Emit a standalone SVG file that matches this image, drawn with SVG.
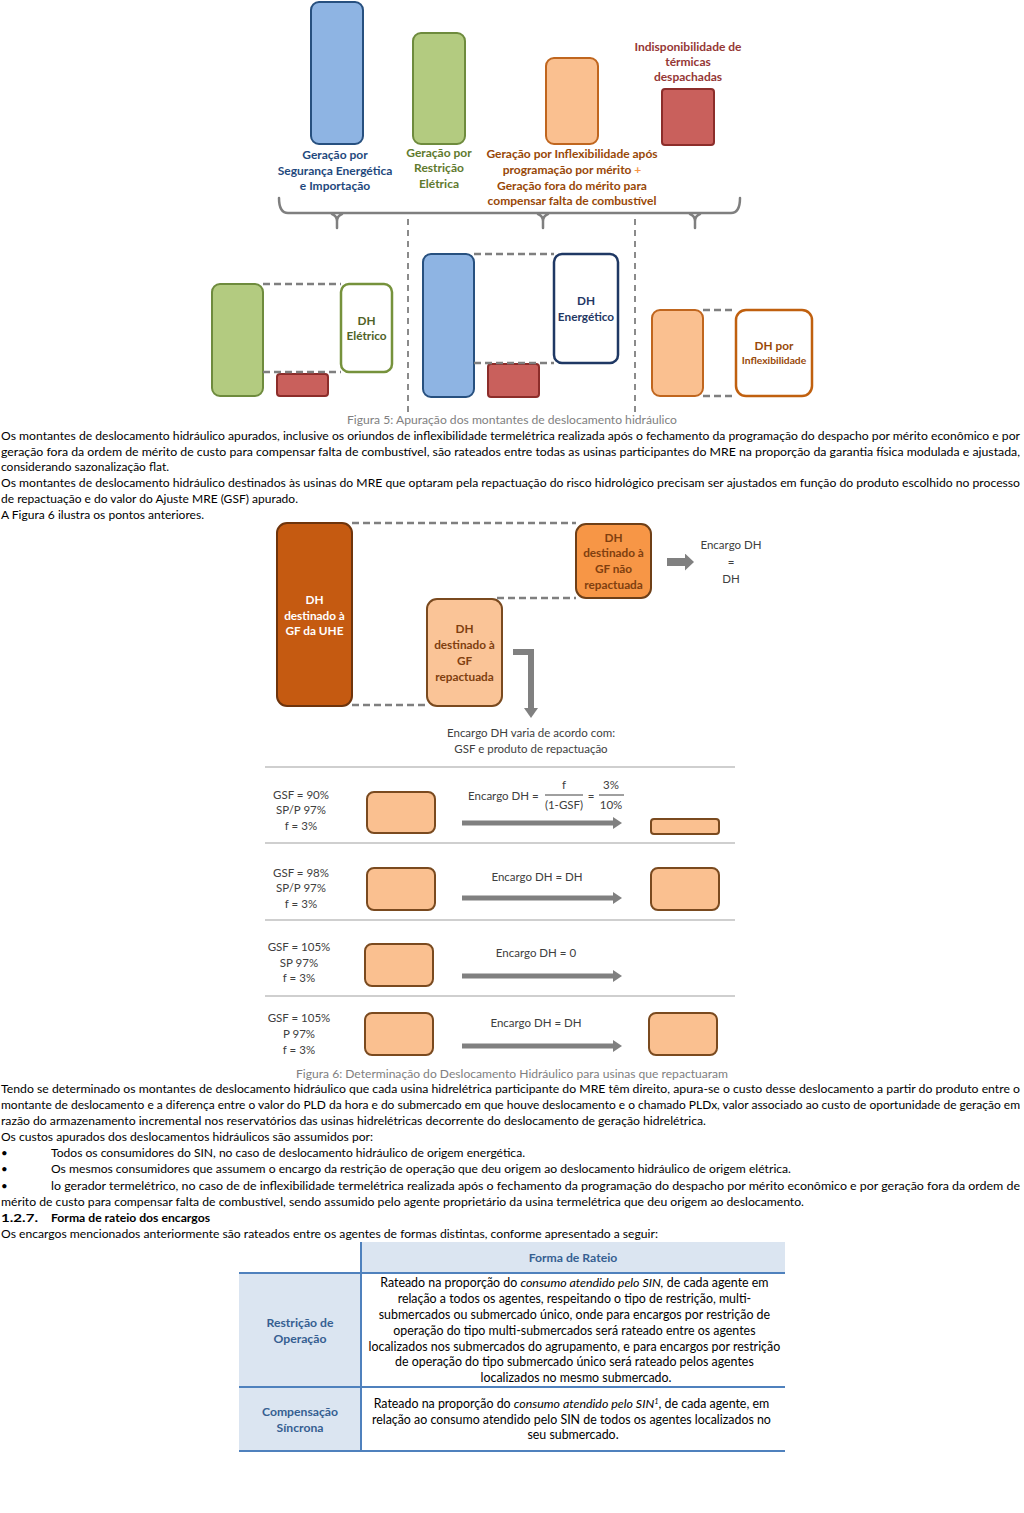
<svg xmlns="http://www.w3.org/2000/svg" width="1024" height="1513" viewBox="0 0 1024 1513">
<style>
.lb{font-family:Lato,"Liberation Sans",sans-serif;font-weight:bold;font-size:12px;text-anchor:middle}
.bx{font-family:Lato,"Liberation Sans",sans-serif;font-weight:bold;font-size:11.8px;text-anchor:middle}
.t{font-family:Lato,"Liberation Sans",sans-serif;font-size:11.5px;fill:#404040;text-anchor:middle}
.ts{font-family:Lato,"Liberation Sans",sans-serif;font-size:11.5px;fill:#404040;text-anchor:start}
.body{font-family:Lato,"Liberation Sans",sans-serif;font-size:11.5px;fill:#000}
.b{font-weight:bold}
.cap{font-family:Lato,"Liberation Sans",sans-serif;font-size:11.5px;fill:#808080}
.tb{font-family:Lato,"Liberation Sans",sans-serif;font-size:12.4px;fill:#000;text-anchor:middle}
.th{font-family:Lato,"Liberation Sans",sans-serif;font-size:12.2px;font-weight:bold;fill:#365F91;text-anchor:middle}
.dash{stroke:#7F7F7F;stroke-width:2.5;stroke-dasharray:7 4;fill:none}
.vd{stroke:#7F7F7F;stroke-width:1.8;stroke-dasharray:6 5;fill:none}
.blue{fill:#8EB4E3;stroke:#27507F;stroke-width:2}
.green{fill:#B3CB80;stroke:#6E8B3D;stroke-width:2}
.peach{fill:#FAC090;stroke:#C0661E;stroke-width:2}
.red{fill:#C9605C;stroke:#8C2D2A;stroke-width:2}
.pk{fill:#FAC090;stroke:#7A4A1F;stroke-width:2}
.sep{stroke:#BFBFBF;stroke-width:1.5}
.arr{stroke:#808080;fill:none}
.tl{stroke:#4F81BD;stroke-width:2}
</style>
<defs>
<marker id="ah" markerUnits="userSpaceOnUse" markerWidth="9" markerHeight="12" refX="0" refY="6" orient="auto"><path d="M0,0 L9,6 L0,12 z" fill="#808080"/></marker>
<marker id="ah2" markerUnits="userSpaceOnUse" markerWidth="10" markerHeight="14" refX="0" refY="7" orient="auto"><path d="M0,0 L10,7 L0,14 z" fill="#808080"/></marker>
<marker id="ah3" markerUnits="userSpaceOnUse" markerWidth="9" markerHeight="17" refX="0" refY="8.5" orient="auto"><path d="M0,0 L9,8.5 L0,17 z" fill="#808080"/></marker>
</defs>
<rect width="1024" height="1513" fill="#fff"/>

<!-- Figure 5 top -->
<g id="bar-seguranca">
<rect class="blue" x="311" y="2" width="52" height="142" rx="8"/>
<text class="lb" fill="#1F497D"><tspan x="335" y="159">Geração por</tspan><tspan x="335" y="175">Segurança Energética</tspan><tspan x="335" y="190">e Importação</tspan></text>
</g>
<g id="bar-restricao">
<rect class="green" x="413" y="33" width="52" height="111" rx="8"/>
<text class="lb" fill="#5F7A2E"><tspan x="439" y="157">Geração por</tspan><tspan x="439" y="172">Restrição</tspan><tspan x="439" y="188">Elétrica</tspan></text>
</g>
<g id="bar-inflex">
<rect class="peach" x="546" y="58" width="52" height="86" rx="8"/>
<text class="lb" fill="#984807"><tspan x="572" y="158">Geração por Inflexibilidade após</tspan><tspan x="572" y="174">programação por mérito <tspan fill="#F79646">+</tspan></tspan><tspan x="572" y="190">Geração fora do mérito para</tspan><tspan x="572" y="205">compensar falta de combustível</tspan></text>
</g>
<g id="bar-indisp">
<rect class="red" x="662" y="89" width="52" height="56" rx="3"/>
<text class="lb" fill="#953735"><tspan x="688" y="51">Indisponibilidade de</tspan><tspan x="688" y="66">térmicas</tspan><tspan x="688" y="81">despachadas</tspan></text>
</g>
<g id="brace" stroke="#7F7F7F" stroke-width="2.5" fill="none" stroke-linecap="round">
<path d="M279,198 Q279,213 288,213 L731,213 Q740,213 740,198"/>
<path d="M332,214 Q337,216 337,221 L337,228 M342,214 Q337,216 337,221"/>
<path d="M538,214 Q543,216 543,221 L543,228 M548,214 Q543,216 543,221"/>
<path d="M690,214 Q695,216 695,221 L695,228 M700,214 Q695,216 695,221"/>
</g>
<g id="dividers">
<line class="vd" x1="408" y1="219" x2="408" y2="412"/>
<line class="vd" x1="635" y1="219" x2="635" y2="412"/>
</g>

<!-- Figure 5 bottom -->
<g id="dh-eletrico-group">
<rect class="green" x="212" y="284" width="51" height="112" rx="8"/>
<rect class="red" x="277" y="374" width="51" height="22" rx="3"/>
</g>
<g id="dh-eletrico">
<rect x="341" y="284" width="51" height="88" rx="8" fill="#fff" stroke="#76923C" stroke-width="2.5"/>
<text class="bx" fill="#4F6228"><tspan x="366.5" y="325">DH</tspan><tspan x="366.5" y="340">Elétrico</tspan></text>
</g>
<g id="dh-energetico-group">
<rect class="blue" x="423" y="254" width="51" height="143" rx="8"/>
<rect class="red" x="488" y="364" width="51" height="33" rx="3"/>
</g>
<g id="dh-energetico">
<rect x="554" y="254" width="64" height="109" rx="8" fill="#fff" stroke="#1F3864" stroke-width="2.5"/>
<text class="bx" fill="#1F3864"><tspan x="586" y="305">DH</tspan><tspan x="586" y="321">Energético</tspan></text>
</g>
<g id="dh-inflex-group">
<rect class="peach" x="652" y="310" width="51" height="86" rx="8"/>
</g>
<g id="dh-inflex">
<rect x="736" y="310" width="76" height="86" rx="10" fill="#fff" stroke="#C0600F" stroke-width="2.5"/>
<text class="bx" fill="#984807"><tspan x="774" y="350">DH por</tspan><tspan x="774" y="364" font-size="10.3">Inflexibilidade</tspan></text>
</g>

<g id="connectors">
<line class="dash" x1="263" y1="284" x2="341" y2="284"/>
<line class="dash" x1="263" y1="372" x2="341" y2="372"/>
<line class="dash" x1="474" y1="254" x2="554" y2="254"/>
<line class="dash" x1="474" y1="363" x2="554" y2="363"/>
<line class="dash" x1="703" y1="310" x2="736" y2="310"/>
<line class="dash" x1="703" y1="396" x2="736" y2="396"/>
<line class="dash" x1="352" y1="523" x2="576" y2="523"/>
<line class="dash" x1="497" y1="598" x2="576" y2="598"/>
<line class="dash" x1="352" y1="705" x2="427" y2="705"/>
<line class="arr" x1="667" y1="562" x2="685" y2="562" stroke-width="8" marker-end="url(#ah3)"/>
<path class="arr" d="M513,652 H531 V708" stroke-width="6" marker-end="url(#ah2)"/>
<line class="arr" x1="462" y1="823" x2="613" y2="823" stroke-width="5" marker-end="url(#ah)"/>
<line class="arr" x1="462" y1="898" x2="613" y2="898" stroke-width="5" marker-end="url(#ah)"/>
<line class="arr" x1="462" y1="976" x2="613" y2="976" stroke-width="5" marker-end="url(#ah)"/>
<line class="arr" x1="462" y1="1046" x2="613" y2="1046" stroke-width="5" marker-end="url(#ah)"/>
</g>

<text class="cap" x="347" y="424" textLength="330" lengthAdjust="spacingAndGlyphs">Figura 5: Apuração dos montantes de deslocamento hidráulico</text>

<g id="paragraph-1" class="body">
<text x="1" y="440" textLength="1019" lengthAdjust="spacingAndGlyphs">Os montantes de deslocamento hidráulico apurados, inclusive os oriundos de inflexibilidade termelétrica realizada após o fechamento da programação do despacho por mérito econômico e por</text>
<text x="1" y="456" textLength="1019" lengthAdjust="spacingAndGlyphs">geração fora da ordem de mérito de custo para compensar falta de combustível,  são rateados entre todas as usinas participantes do MRE na proporção da garantia física modulada e ajustada,</text>
<text x="1" y="471" textLength="168" lengthAdjust="spacingAndGlyphs">considerando sazonalização flat.</text>
<text x="1" y="487" textLength="1019" lengthAdjust="spacingAndGlyphs">Os montantes de deslocamento hidráulico destinados às usinas do MRE que optaram pela repactuação do risco hidrológico precisam ser ajustados em função do produto escolhido no processo</text>
<text x="1" y="503" textLength="297" lengthAdjust="spacingAndGlyphs">de repactuação e do valor do Ajuste MRE (GSF) apurado.</text>
<text x="1" y="519" textLength="203" lengthAdjust="spacingAndGlyphs">A Figura 6 ilustra os pontos anteriores.</text>
</g>

<!-- Figure 6 -->
<g id="dh-gf-uhe">
<rect x="277" y="523" width="75" height="183" rx="10" fill="#C55A11" stroke="#6E340C" stroke-width="2"/>
<text class="bx" fill="#fff"><tspan x="314.5" y="604">DH</tspan><tspan x="314.5" y="620">destinado à</tspan><tspan x="314.5" y="635">GF da UHE</tspan></text>
</g>
<g id="dh-gf-nao-repactuada">
<rect x="576" y="524" width="75" height="74" rx="10" fill="#F79646" stroke="#6E3F17" stroke-width="2"/>
<text class="bx" fill="#7F3F0F"><tspan x="613.5" y="542">DH</tspan><tspan x="613.5" y="557">destinado à</tspan><tspan x="613.5" y="573">GF não</tspan><tspan x="613.5" y="589">repactuada</tspan></text>
</g>
<g id="dh-gf-repactuada">
<rect x="427" y="599" width="75" height="107" rx="10" fill="#FAC497" stroke="#7A4A1F" stroke-width="2"/>
<text class="bx" fill="#7F3F0F"><tspan x="464.5" y="633">DH</tspan><tspan x="464.5" y="649">destinado à</tspan><tspan x="464.5" y="665">GF</tspan><tspan x="464.5" y="681">repactuada</tspan></text>
</g>
<g id="encargo-dh-label">
<text class="t"><tspan x="731" y="549">Encargo DH</tspan><tspan x="731" y="566">=</tspan><tspan x="731" y="583">DH</tspan></text>
</g>
<g id="encargo-varia-label">
<text class="t" font-size="12.3"><tspan x="531" y="737">Encargo DH varia de acordo com:</tspan><tspan x="531" y="753">GSF e produto de repactuação</tspan></text>
</g>

<g id="separators">
<line class="sep" x1="265" y1="767" x2="735" y2="767"/>
<line class="sep" x1="265" y1="843" x2="735" y2="843"/>
<line class="sep" x1="265" y1="920" x2="735" y2="920"/>
<line class="sep" x1="265" y1="996" x2="735" y2="996"/>
</g>

<g id="row-1">
<text class="t"><tspan x="301" y="799">GSF = 90%</tspan><tspan x="301" y="814">SP/P 97%</tspan><tspan x="301" y="830">f = 3%</tspan></text>
<rect class="pk" x="367" y="792" width="68" height="41" rx="7"/>
<text class="ts" x="468" y="800">Encargo DH =</text>
<text class="t" x="564" y="789">f</text>
<line x1="545" y1="795" x2="583" y2="795" stroke="#404040" stroke-width="1"/>
<text class="t" x="564" y="809">(1-GSF)</text>
<text class="t" x="591" y="800">=</text>
<text class="t" x="611" y="789">3%</text>
<line x1="599" y1="795" x2="624" y2="795" stroke="#404040" stroke-width="1"/>
<text class="t" x="611" y="809">10%</text>
<rect class="pk" x="651" y="819" width="68" height="15" rx="3"/>
</g>
<g id="row-2">
<text class="t"><tspan x="301" y="877">GSF = 98%</tspan><tspan x="301" y="892">SP/P 97%</tspan><tspan x="301" y="908">f = 3%</tspan></text>
<rect class="pk" x="367" y="868" width="68" height="42" rx="7"/>
<text class="t" x="537" y="881">Encargo DH = DH</text>
<rect class="pk" x="651" y="868" width="68" height="42" rx="7"/>
</g>
<g id="row-3">
<text class="t"><tspan x="299" y="951">GSF = 105%</tspan><tspan x="299" y="967">SP 97%</tspan><tspan x="299" y="982">f = 3%</tspan></text>
<rect class="pk" x="365" y="944" width="68" height="42" rx="7"/>
<text class="t" x="536" y="957">Encargo DH = 0</text>
</g>
<g id="row-4">
<text class="t"><tspan x="299" y="1022">GSF = 105%</tspan><tspan x="299" y="1038">P 97%</tspan><tspan x="299" y="1054">f = 3%</tspan></text>
<rect class="pk" x="365" y="1013" width="68" height="42" rx="7"/>
<text class="t" x="536" y="1027">Encargo DH = DH</text>
<rect class="pk" x="649" y="1013" width="68" height="42" rx="7"/>
</g>

<text class="cap" x="296" y="1078" textLength="432" lengthAdjust="spacingAndGlyphs">Figura 6: Determinação do Deslocamento Hidráulico para usinas que repactuaram</text>

<g id="paragraph-2" class="body">
<text x="1" y="1093" textLength="1019" lengthAdjust="spacingAndGlyphs">Tendo se determinado os montantes de deslocamento hidráulico que cada usina hidrelétrica participante do MRE têm direito, apura-se o custo desse deslocamento a partir do produto entre o</text>
<text x="1" y="1109" textLength="1019" lengthAdjust="spacingAndGlyphs">montante de deslocamento e a diferença entre o valor do PLD da hora e do submercado em que houve deslocamento e o chamado PLDx, valor associado ao custo de oportunidade de geração em</text>
<text x="1" y="1125" textLength="705" lengthAdjust="spacingAndGlyphs">razão do armazenamento incremental nos reservatórios das usinas hidrelétricas decorrente do deslocamento de geração hidrelétrica.</text>
<text x="1" y="1141" textLength="372" lengthAdjust="spacingAndGlyphs">Os custos apurados dos deslocamentos hidráulicos são assumidos por:</text>
<text x="1" y="1157">•</text>
<text x="51" y="1157" textLength="474" lengthAdjust="spacingAndGlyphs">Todos os consumidores do SIN, no caso de deslocamento hidráulico de origem energética.</text>
<text x="1" y="1173">•</text>
<text x="51" y="1173" textLength="740" lengthAdjust="spacingAndGlyphs">Os mesmos consumidores que assumem o encargo da restrição de operação que deu origem ao deslocamento hidráulico de origem elétrica.</text>
<text x="1" y="1190">•</text>
<text x="51" y="1190" textLength="969" lengthAdjust="spacingAndGlyphs">lo gerador termelétrico, no caso de de inflexibilidade termelétrica realizada após o fechamento da programação do despacho por mérito econômico e por geração fora da ordem de</text>
<text x="1" y="1206" textLength="803" lengthAdjust="spacingAndGlyphs">mérito de custo para compensar falta de combustível, sendo assumido pelo agente proprietário da usina termelétrica que deu origem ao deslocamento.</text>
<text class="b" x="1" y="1222" textLength="37" lengthAdjust="spacingAndGlyphs">1.2.7.</text>
<text class="b" x="51" y="1222" textLength="159" lengthAdjust="spacingAndGlyphs">Forma de rateio dos encargos</text>
<text x="1" y="1238" textLength="657" lengthAdjust="spacingAndGlyphs">Os encargos mencionados anteriormente são rateados entre os agentes de formas distintas, conforme apresentado a seguir:</text>
</g>

<!-- Table -->
<g id="table">
<rect x="361" y="1242" width="424" height="31" fill="#DBE5F1"/>
<rect x="239" y="1273" width="122" height="178" fill="#DBE5F1"/>
<line class="tl" x1="239" y1="1273" x2="785" y2="1273"/>
<line class="tl" x1="239" y1="1387" x2="785" y2="1387"/>
<line class="tl" x1="239" y1="1451" x2="785" y2="1451"/>
<line class="tl" x1="361" y1="1242" x2="361" y2="1451" stroke-width="2.5"/>
<text class="th" x="573" y="1262">Forma de Rateio</text>
<text class="th"><tspan x="300" y="1327">Restrição de</tspan><tspan x="300" y="1343">Operação</tspan></text>
<text class="th"><tspan x="300" y="1416">Compensação</tspan><tspan x="300" y="1432">Síncrona</tspan></text>
<text class="tb">
<tspan x="576" y="1287">Rateado na proporção do <tspan font-style="italic">consumo atendido pelo SIN,</tspan> de cada agente em</tspan>
<tspan x="576" y="1303">relação a todos os agentes, respeitando o tipo de restrição, multi-</tspan>
<tspan x="576" y="1319">submercados ou submercado único, onde para encargos por restrição de</tspan>
<tspan x="576" y="1335">operação do tipo multi-submercados será rateado entre os agentes</tspan>
<tspan x="576" y="1351">localizados nos submercados do agrupamento, e para encargos por restrição</tspan>
<tspan x="576" y="1366">de operação do tipo submercado único será rateado pelos agentes</tspan>
<tspan x="576" y="1382">localizados no mesmo submercado.</tspan>
</text>
<text class="tb">
<tspan x="573" y="1408">Rateado na proporção do <tspan font-style="italic">consumo atendido pelo SIN</tspan><tspan font-style="italic" font-size="7.5" dy="-4">1</tspan><tspan dy="4">, de cada agente, em</tspan></tspan>
<tspan x="573" y="1424">relação ao consumo atendido pelo SIN de todos os agentes localizados no</tspan>
<tspan x="573" y="1439">seu submercado.</tspan>
</text>
</g>
</svg>
